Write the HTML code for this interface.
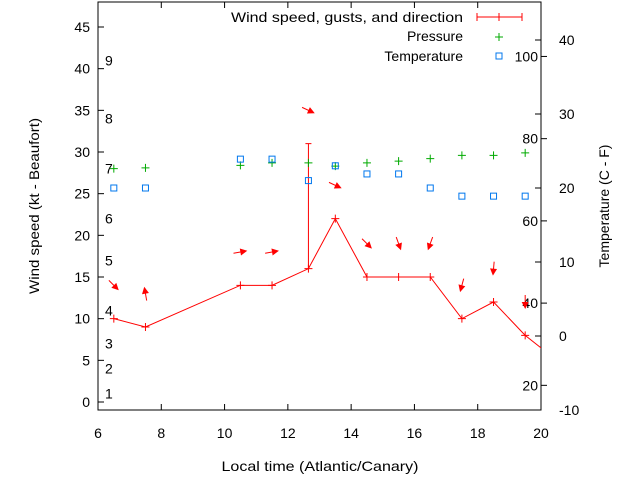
<!DOCTYPE html>
<html><head><meta charset="utf-8"><style>
html,body{margin:0;padding:0;background:#fff;}
svg{display:block;font-family:"Liberation Sans",sans-serif;font-size:14px;}
</style></head><body>
<svg id="chart" width="640" height="480" viewBox="0 0 640 480" xmlns="http://www.w3.org/2000/svg">
<rect x="0" y="0" width="640" height="480" fill="#fff"/>
<g id="axes"></g>
<g id="marks"></g>
<text x="320" y="471" text-anchor="middle" textLength="197" lengthAdjust="spacingAndGlyphs">Local time (Atlantic/Canary)</text>
<text transform="translate(39,206) rotate(-90)" text-anchor="middle" textLength="176" lengthAdjust="spacingAndGlyphs">Wind speed (kt - Beaufort)</text>
<text transform="translate(609,206) rotate(-90)" text-anchor="middle">Temperature (C - F)</text>
<g>
<text x="463" y="22" text-anchor="end" textLength="232" lengthAdjust="spacingAndGlyphs">Wind speed, gusts, and direction</text>
<g stroke="#f00" stroke-width="1">
<line x1="477" y1="17" x2="522" y2="17"/><line x1="477" y1="13" x2="477" y2="21"/><line x1="522" y1="13" x2="522" y2="21"/><line x1="499" y1="13" x2="499" y2="21"/></g>
<text x="463" y="41" text-anchor="end">Pressure</text>
<g stroke="#0a0"><line x1="495" y1="37" x2="503" y2="37"/><line x1="499" y1="33" x2="499" y2="41"/></g>
<text x="463" y="61" text-anchor="end">Temperature</text>
<rect x="496" y="53" width="6" height="6" fill="none" stroke="#07e"/>
</g>
</svg>
<script>
const hours = [6.5, 7.5, 10.5, 11.5, 12.65, 13.5, 14.5, 15.5, 16.5, 17.5, 18.5, 19.5, 20.5];
const windSpeed = [10, 9, 14, 14, 16, 22, 15, 15, 15, 10, 12, 8, 5];
const windGust = [null, null, null, null, 31, null, null, null, null, null, null, null, null];
const windDir = [135, -10, 80, 80, 115, 115, 135, 160, 200, 195, 185, 180, 180];
const pressure = [28, 28.1, 28.4, 28.7, 28.7, 28.3, 28.7, 28.9, 29.2, 29.6, 29.6, 29.9];
const temperatureC = [20, 20, 23.9, 23.9, 21, 23, 21.9, 21.9, 20, 18.9, 18.9, 18.9];
const xTicks = [6, 8, 10, 12, 14, 16, 18, 20];
const yTicks = [0, 5, 10, 15, 20, 25, 30, 35, 40, 45];
const cTicks = [-10, 0, 10, 20, 30, 40];
const fTicks = [20, 40, 60, 80, 100];
const beaufort = [1, 2, 3, 4, 5, 6, 7, 8, 9];
const beaufortKt = [1, 4, 7, 11, 17, 22, 28, 34, 41];

const L=98,R=541,T=2,B=410;
const X=h=>L+(h-6)*(R-L)/14;
const Y=v=>402-v*(375/45);
const YC=c=>336-c*7.4;
const NS='http://www.w3.org/2000/svg';
function mk(tag,attrs,parent){const e=document.createElementNS(NS,tag);for(const k in attrs)e.setAttribute(k,attrs[k]);parent.appendChild(e);return e;}
const ax=document.getElementById('axes'), mg=document.getElementById('marks');

let fr=mk('rect',{x:L,y:T,width:R-L,height:B-T,fill:'none',stroke:'#000'},ax);


xTicks.forEach(t=>{
  const x=X(t);
  mk('line',{x1:x,y1:B,x2:x,y2:B-6,stroke:'#000'},ax);
  mk('line',{x1:x,y1:T,x2:x,y2:T+6,stroke:'#000'},ax);
  const tx=mk('text',{x:x,y:438,'text-anchor':'middle'},ax);tx.textContent=t;
  
  
});
yTicks.forEach(t=>{
  const y=Y(t);
  mk('line',{x1:L,y1:y,x2:L+6,y2:y,stroke:'#000'},ax);
  const tx=mk('text',{x:L-8,y:y+5,'text-anchor':'end'},ax);tx.textContent=t;
  
  
});
cTicks.forEach(t=>{
  const y=YC(t);
  mk('line',{x1:R,y1:y,x2:R-6,y2:y,stroke:'#000'},ax);
  const tx=mk('text',{x:R+18,y:y+5,'text-anchor':'start'},ax);tx.textContent=t;
  
  
});
fTicks.forEach(t=>{
  const y=YC((t-32)*5/9);
  mk('line',{x1:R,y1:y,x2:R+6,y2:y,stroke:'#000'},ax);
  const tx=mk('text',{x:R-3,y:y+5,'text-anchor':'end'},ax);tx.textContent=t;
  
  
});
beaufort.forEach((b,i)=>{
  const tx=mk('text',{x:105,y:Y(beaufortKt[i])+5},ax);tx.textContent=b;
  
  
});

const defs=mk('defs',{},mg);
const cp=mk('clipPath',{id:'clip'},defs);
mk('rect',{x:L,y:T,width:R-L,height:B-T},cp);
const g=mk('g',{'clip-path':'url(#clip)'},mg);

const pts=hours.map((h,i)=>X(h)+','+Y(windSpeed[i])).join(' ');
const pl=mk('polyline',{points:pts,fill:'none',stroke:'#f00','stroke-width':1},g);


hours.forEach((h,i)=>{
  const x=X(h),y=Y(windSpeed[i]);
  const p=mk('path',{d:`M${x-4},${y}H${x+4}M${x},${y-4}V${y+4}`,stroke:'#f00'},g);
  
  
  if(windGust[i]!=null){
    const gy=Y(windGust[i]);
    const e=mk('path',{d:`M${x},${y}V${gy}M${x-3},${gy}H${x+3}`,stroke:'#f00'},g);
    
    
  }
  if(i<12){
    const top=Math.max(windSpeed[i],windGust[i]||0)+4;
    const ay=Y(top);
    const a=mk('g',{transform:`translate(${x},${ay}) rotate(${windDir[i]})`},g);
    
    
    mk('line',{x1:0,y1:7,x2:0,y2:-5,stroke:'#f00'},a);
    mk('polygon',{points:'0,-7 -3.5,0 3.5,0',fill:'#f00'},a);
  }
});
pressure.forEach((p,i)=>{
  const x=X(hours[i]),y=Y(p);
  const e=mk('path',{d:`M${x-4},${y}H${x+4}M${x},${y-4}V${y+4}`,stroke:'#0a0'},g);
  
  
});
temperatureC.forEach((c,i)=>{
  const x=X(hours[i]),y=YC(c);
  const e=mk('rect',{x:x-3,y:y-3,width:6,height:6,fill:'none',stroke:'#07e'},g);
  
  
});
</script>
</body></html>
